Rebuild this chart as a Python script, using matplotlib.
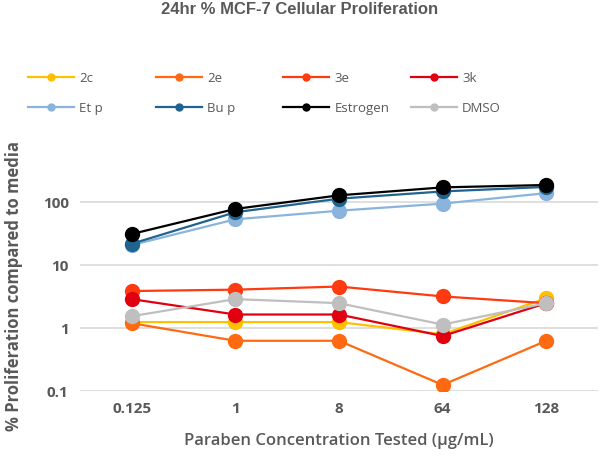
import matplotlib.pyplot as plt
import numpy as np

# categories (ug/mL)
conc = ['0.125', '1', '8', '64', '128']

# % proliferation compared to media
s_2c = [1.25, 1.25, 1.25, 0.8, 3.0]
s_2e = [1.2, 0.63, 0.63, 0.125, 0.63]
s_3e = [3.9, 4.1, 4.6, 3.2, 2.5]
s_3k = [2.9, 1.65, 1.65, 0.75, 2.5]
s_etp = [21, 54, 74, 96, 141]
s_bup = [22, 70, 115, 150, 177]
s_estr = [31.5, 79, 130, 174, 190]
s_dmso = [1.55, 2.9, 2.5, 1.14, 2.5]

names = ['2c', '2e', '3e', '3k', 'Et p', 'Bu p', 'Estrogen', 'DMSO']
series = [s_2c, s_2e, s_3e, s_3k, s_etp, s_bup, s_estr, s_dmso]
colors = ['#FFC000', '#FF6A10', '#FF3A10', '#E00010', '#8AB4DC', '#1F6391', '#000000', '#BFBFBF']

grey = '#595959'
font = 'Open Sans'

fig = plt.figure(figsize=(6, 4.57), dpi=100)
ax = fig.add_axes([0.133, 0.1444, 0.864, 0.55])

X = np.arange(len(conc))
handles = []
for name, vals, c in zip(names, series, colors):
    ax.plot(X, vals, color=c, lw=1.6, marker='o', ms=10, zorder=3)
    h, = ax.plot([], [], color=c, lw=1.6, marker='o', ms=5, label=name)
    handles.append(h)

ax.set_yscale('log')
ax.set_ylim(0.1, 1000)
ax.set_xlim(-0.5, 4.5)
ax.set_yticks([0.1, 1, 10, 100])
ax.set_yticklabels(['0.1', '1', '10', '100'])
ax.yaxis.set_minor_locator(plt.NullLocator())
ax.set_xticks(X)
ax.set_xticklabels(conc)
ax.grid(axis='y', color='#D9D9D9', lw=1.2)
ax.set_axisbelow(True)
for sp in ax.spines.values():
    sp.set_visible(False)
ax.tick_params(length=0, labelsize=11, labelcolor=grey, pad=8)
for lab in ax.get_xticklabels() + ax.get_yticklabels():
    lab.set_fontweight('bold')
    lab.set_family(font)

ax.set_xlabel('Paraben Concentration Tested (µg/mL)', fontsize=12, color=grey,
              family=font, fontweight='semibold', labelpad=12)
ax.set_ylabel('% Proliferation compared to media', fontsize=12, color=grey,
              family=font, fontweight='bold')
ax.yaxis.set_label_coords(-0.133 + 12 / 518.4, (457 - 286 - 66) / 251.4)

fig.text(0.5, 1 - 10 / 457, '24hr % MCF-7 Cellular Proliferation', ha='center', va='center',
         fontsize=12, fontweight='bold', color=grey, family='Liberation Sans')

# legend: 4 columns x 2 rows, row-major like Excel
for col in range(4):
    hs = [handles[col], handles[col + 4]]
    fig.legend(handles=hs, loc='upper left', bbox_to_anchor=((28 + 127.5 * col) / 600, 0.843),
               frameon=False, borderpad=0, borderaxespad=0, handlelength=3.5,
               handletextpad=0.4, labelspacing=1.3,
               prop={'family': font, 'size': 9.5}, labelcolor=grey)

fig.savefig('out.png', dpi=100)
